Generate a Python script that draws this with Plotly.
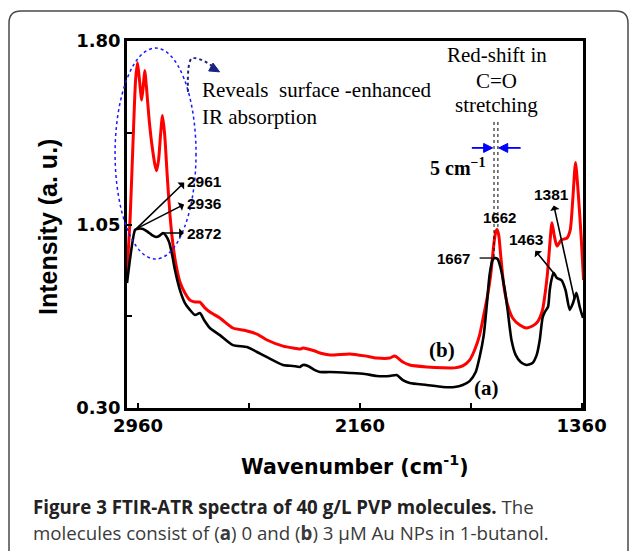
import plotly.graph_objects as go

# ---------------- data ----------------
wn_a = [3000, 2971, 2964, 2942, 2924, 2910, 2895, 2884, 2870, 2859, 2848, 2837, 2827, 2809,
        2791, 2773, 2755, 2737, 2722, 2701, 2665, 2618, 2567, 2531, 2495, 2437, 2401, 2376,
        2365, 2347, 2322, 2304, 2268, 2196, 2142, 2099, 2052, 2027, 2005, 1980, 1919, 1861,
        1818, 1789, 1764, 1742, 1728, 1713, 1702, 1692, 1681, 1674, 1663, 1652, 1637, 1627,
        1613, 1598, 1580, 1558, 1537, 1522, 1511, 1501, 1493, 1481, 1475, 1469, 1461, 1449,
        1433, 1418, 1403, 1391, 1379, 1367, 1355]
int_a = [0.811, 1.028, 1.032, 1.032, 1.019, 1.007, 0.999, 1.003, 1.015, 1.003, 0.978, 0.925,
         0.864, 0.782, 0.729, 0.701, 0.680, 0.688, 0.660, 0.627, 0.598, 0.557, 0.549, 0.529,
         0.508, 0.476, 0.472, 0.468, 0.476, 0.472, 0.455, 0.447, 0.447, 0.443, 0.439, 0.431,
         0.431, 0.435, 0.414, 0.402, 0.394, 0.386, 0.386, 0.394, 0.410, 0.447, 0.508, 0.598,
         0.721, 0.844, 0.905, 0.913, 0.909, 0.872, 0.782, 0.701, 0.578, 0.517, 0.488, 0.476,
         0.484, 0.517, 0.578, 0.668, 0.692, 0.714, 0.782, 0.823, 0.853, 0.831, 0.823, 0.782,
         0.701, 0.729, 0.771, 0.714, 0.668]

wn_b = [3000, 2989, 2978, 2969, 2962, 2955, 2947, 2941, 2936, 2929, 2920, 2910, 2899, 2893,
        2886, 2879, 2872, 2864, 2855, 2845, 2834, 2823, 2809, 2791, 2773, 2755, 2737, 2719,
        2701, 2665, 2618, 2567, 2531, 2495, 2437, 2401, 2376, 2365, 2347, 2322, 2304, 2268,
        2196, 2142, 2099, 2052, 2034, 2005, 1980, 1919, 1861, 1818, 1789, 1764, 1746, 1728,
        1713, 1699, 1688, 1677, 1670, 1665, 1659, 1652, 1641, 1627, 1609, 1583, 1559, 1537,
        1519, 1501, 1490, 1483, 1475, 1467, 1459, 1449, 1433, 1421, 1413, 1401, 1392, 1382,
        1373, 1361, 1353]
int_b = [0.852, 1.068, 1.395, 1.641, 1.711, 1.641, 1.559, 1.620, 1.679, 1.600, 1.477, 1.375,
         1.293, 1.270, 1.314, 1.416, 1.495, 1.416, 1.252, 1.089, 0.966, 0.884, 0.815, 0.770,
         0.741, 0.733, 0.733, 0.709, 0.692, 0.668, 0.627, 0.615, 0.602, 0.578, 0.553, 0.545,
         0.541, 0.545, 0.541, 0.533, 0.525, 0.517, 0.521, 0.513, 0.504, 0.504, 0.513, 0.488,
         0.476, 0.468, 0.464, 0.464, 0.472, 0.496, 0.537, 0.598, 0.680, 0.762, 0.844, 0.966,
         1.019, 1.030, 1.007, 0.925, 0.803, 0.721, 0.668, 0.639, 0.627, 0.635, 0.652, 0.701,
         0.782, 0.852, 0.966, 1.057, 1.007, 0.962, 0.987, 0.991, 0.994, 1.028, 1.150, 1.303,
         1.191, 0.987, 0.823]

x_tickvals = [2960, 2160, 1360]
x_ticktext = ["2960", "2160", "1360"]
x_minorvals = [2560, 1760]
y_tickvals = [0.30, 1.05, 1.80]
y_ticktext = ["0.30", "1.05", "1.80"]
y_minorvals = [0.675, 1.425]
x_range = [3000, 1355]
y_range = [0.30, 1.80]

# ---------------- helpers ----------------
W, H = 629, 551
ML, MR, MT, MB = 127, 46, 41, 143
PW, PH = W - ML - MR, H - MT - MB

def xd(w):
    return (x_range[0] - w) / (x_range[0] - x_range[1])

def yd(v):
    return (v - y_range[0]) / (y_range[1] - y_range[0])

# data units per pixel (x axis reversed: +pixel -> smaller wavenumber)
DX = (x_range[0] - x_range[1]) / PW
DY = (y_range[1] - y_range[0]) / PH

def px(x):  # page pixel -> paper fraction
    return (x - ML) / PW

def py(y):
    return (H - MB - y) / PH

def arrow_head(hx, hy, dirx, diry, length=9, half=4):
    """Filled triangular head (in data units); dir is the pixel direction of travel."""
    n = (dirx ** 2 + diry ** 2) ** 0.5
    ux, uy = dirx / n, diry / n
    bx, by = -ux * length, -uy * length
    p1 = (bx - uy * half, by + ux * half)
    p2 = (bx + uy * half, by - ux * half)
    def to_data(dp):
        return hx - dp[0] * DX, hy - dp[1] * DY
    a, b = to_data(p1), to_data(p2)
    return f"M {hx},{hy} L {a[0]},{a[1]} L {b[0]},{b[1]} Z"

SANS_B = dict(family="Liberation Sans, Arial", color="black", weight="bold")
SERIF = "Liberation Serif, Times New Roman"

fig = go.Figure()
fig.add_trace(go.Scatter(x=wn_b, y=int_b, mode="lines", name="(b)",
                         line=dict(color="#ff0000", width=3, shape="spline", smoothing=0.6)))
fig.add_trace(go.Scatter(x=wn_a, y=int_a, mode="lines", name="(a)",
                         line=dict(color="black", width=2.6, shape="spline", smoothing=0.6)))

shapes = []
annotations = []

# outer rounded frame
rx, ry = 12 / PW, 12 / PH
L, R, T, B = px(9), px(628), py(11), py(560)
shapes.append(dict(type="path", xref="paper", yref="paper",
                   path=f"M {L},{B} L {L},{T-ry} Q {L},{T} {L+rx},{T} L {R-rx},{T} Q {R},{T} {R},{T-ry} L {R},{B}",
                   line=dict(color="#4a4a4a", width=1.5)))

# blue dotted ellipse
shapes.append(dict(type="circle", xref="x domain", yref="y domain",
                   x0=xd(3043), x1=xd(2751), y0=yd(0.909), y1=yd(1.771),
                   line=dict(color="#1a1aff", width=1.5, dash="dot")))

# navy curved dotted arrow
NAVY = "#1a237e"
shapes.append(dict(type="path", xref="x", yref="y",
                   path="M 2780,1.592 C 2782,1.66 2780,1.735 2760,1.731 C 2735,1.728 2705,1.712 2676,1.681",
                   line=dict(color=NAVY, width=2, dash="dot")))
shapes.append(dict(type="path", xref="x", yref="y",
                   path=arrow_head(2666, 1.674, 1.0, 0.55, length=10, half=4.5),
                   fillcolor=NAVY, line=dict(color=NAVY, width=1)))

annotations.append(dict(x=2737, y=1.600, xref="x", yref="y", xanchor="left", yanchor="middle",
                        text="Reveals\u00a0\u00a0surface\u00a0-enhanced", showarrow=False,
                        font=dict(family=SERIF, size=21, color="black")))
annotations.append(dict(x=2737, y=1.489, xref="x", yref="y", xanchor="left", yanchor="middle",
                        text="IR absorption", showarrow=False,
                        font=dict(family=SERIF, size=21, color="black")))

# red-shift text
for txt, yy in [("Red-shift in", 1.743), ("C=O", 1.638), ("stretching", 1.538)]:
    annotations.append(dict(x=1666, y=yy, xref="x", yref="y", xanchor="center", yanchor="middle",
                            text=txt, showarrow=False,
                            font=dict(family=SERIF, size=21, color="black")))

# dotted verticals
shapes.append(dict(type="line", xref="x", yref="y", x0=1676, x1=1676, y0=1.469, y1=0.913,
                   line=dict(color="black", width=1, dash="dot")))
shapes.append(dict(type="line", xref="x", yref="y", x0=1662, x1=1662, y0=1.469, y1=1.03,
                   line=dict(color="black", width=1, dash="dot")))

# blue arrows (5 cm-1)
BLUE = "#0000ff"
for tail, head, d in [(1756, 1681, 1.0), (1580, 1659, -1.0)]:
    shapes.append(dict(type="line", xref="x", yref="y", x0=tail, x1=head + d * 6 * DX,
                       y0=1.363, y1=1.363, line=dict(color=BLUE, width=1.8)))
    shapes.append(dict(type="path", xref="x", yref="y",
                       path=arrow_head(head, 1.363, d, 0.0, length=9, half=4.5),
                       fillcolor=BLUE, line=dict(color=BLUE, width=1)))
annotations.append(dict(x=1807, y=1.285, xref="x", yref="y", showarrow=False,
                        xanchor="center", yanchor="middle",
                        text="<b>5 cm<sup>\u22121</sup></b>",
                        font=dict(family=SERIF, size=20, color="black")))

# peak labels with arrows (arrowhead at the label end)
peak_labels = [
    # text, label x, label y, anchor, curve point x, curve point y
    ("2961", 2791, 1.224, "left", 2967, 1.032),
    ("2936", 2791, 1.134, "left", 2967, 1.032),
    ("2872", 2791, 1.015, "left", 2870, 1.015),
    ("1463", 1559, 0.987, "center", 1461, 0.852),
    ("1381", 1469, 1.173, "center", 1385, 0.741),
]
for lab, lx, ly, anc, cx, cy in peak_labels:
    annotations.append(dict(x=cx, y=cy, ax=lx, ay=ly, xref="x", yref="y", axref="x", ayref="y",
                            xanchor=anc, yanchor="middle", text=lab, showarrow=True,
                            arrowside="start", arrowhead=2, arrowsize=1.1, arrowwidth=1.6,
                            arrowcolor="black", startstandoff=1,
                            font=dict(size=15.5, **SANS_B)))
annotations.append(dict(x=1756, y=0.913, xref="x", yref="y", xanchor="right", yanchor="middle",
                        showarrow=False, text="1667", font=dict(size=15, **SANS_B)))
shapes.append(dict(type="line", xref="x", yref="y", x0=1728, x1=1684, y0=0.913, y1=0.913,
                   line=dict(color="black", width=1.3)))
annotations.append(dict(x=1656, y=1.077, xref="x", yref="y", xanchor="center", yanchor="middle",
                        showarrow=False, text="1662", font=dict(size=15, **SANS_B)))

# series labels
annotations.append(dict(x=1864, y=0.537, xref="x", yref="y", showarrow=False,
                        xanchor="center", yanchor="middle",
                        text="<b>(b)</b>", font=dict(family=SERIF, size=21, color="black")))
annotations.append(dict(x=1702, y=0.382, xref="x", yref="y", showarrow=False,
                        xanchor="center", yanchor="middle",
                        text="<b>(a)</b>", font=dict(family=SERIF, size=21, color="black")))

# axis titles
annotations.append(dict(x=0.5, y=py(465), xref="paper", yref="paper", showarrow=False,
                        xanchor="center", yanchor="middle",
                        text="Wavenumber (cm<sup>-1</sup>)",
                        font=dict(family="DejaVu Sans", size=20.5, color="black", weight="bold")))
annotations.append(dict(x=px(48), y=py(227), xref="paper", yref="paper", showarrow=False,
                        xanchor="center", yanchor="middle",
                        textangle=-90, text="Intensity (a. u.)",
                        font=dict(size=25, **SANS_B)))

# caption
annotations.append(dict(x=px(31), y=py(506), xref="paper", yref="paper", xanchor="left",
                        yanchor="middle", showarrow=False, align="left",
                        text="<b><span style='color:#222222'>Figure 3 FTIR-ATR spectra of 40 g/L PVP molecules.</span></b> The",
                        font=dict(family="Open Sans", size=18.7, color="#3a3a3a")))
annotations.append(dict(x=px(31), y=py(532), xref="paper", yref="paper", xanchor="left",
                        yanchor="middle", showarrow=False, align="left",
                        text="molecules consist of (<b>a</b>) 0 and (<b>b</b>) 3 \u03bcM Au NPs in 1-butanol.",
                        font=dict(family="Open Sans", size=18.7, color="#3a3a3a")))

fig.update_layout(
    width=W, height=H, margin=dict(l=ML, r=MR, t=MT, b=MB),
    paper_bgcolor="white", plot_bgcolor="white", showlegend=False,
    shapes=shapes, annotations=annotations,
)
fig.update_xaxes(range=x_range, tickmode="array", tickvals=x_tickvals, ticktext=x_ticktext,
                 ticks="inside", ticklen=5, tickwidth=2, tickcolor="black",
                 minor=dict(tickmode="array", tickvals=x_minorvals, ticks="inside",
                            ticklen=5, tickwidth=2, tickcolor="black", showgrid=False),
                 showline=True, linewidth=2.5, linecolor="black", mirror=True,
                 showgrid=False, zeroline=False,
                 tickfont=dict(family="DejaVu Sans", size=18, color="black", weight="bold"))
fig.update_yaxes(range=y_range, tickmode="array", tickvals=y_tickvals, ticktext=y_ticktext,
                 ticks="inside", ticklen=5, tickwidth=2, tickcolor="black",
                 minor=dict(tickmode="array", tickvals=y_minorvals, ticks="inside",
                            ticklen=5, tickwidth=2, tickcolor="black", showgrid=False),
                 showline=True, linewidth=2.5, linecolor="black", mirror=True,
                 showgrid=False, zeroline=False,
                 tickfont=dict(family="DejaVu Sans", size=18, color="black", weight="bold"))

fig.write_html("out.html")
